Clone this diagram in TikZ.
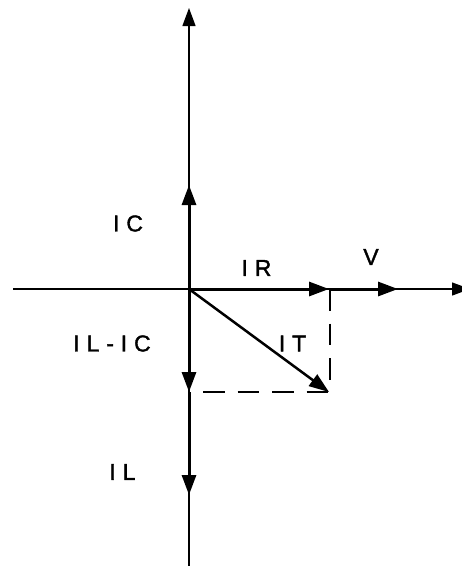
\documentclass[tikz,border=0pt]{standalone}
\usepackage{fontspec}
\setmainfont{Liberation Sans}
\newfontfamily\lblfont[LetterSpace=30,FakeBold=1.5]{Liberation Sans}
\usetikzlibrary{arrows.meta}
\tikzset{
  vec/.style={line width=3pt, -{Triangle[length=20pt,width=14pt]}},
  vecthin/.style={line width=2.5pt, -{Triangle[length=20pt,width=14pt]}},
  axtip/.style={line width=1.3pt, -{Triangle[length=18pt,width=13pt]}},
  guide/.style={line width=2pt, dash pattern=on 21.5pt off 13pt},
  lbl/.style={inner sep=0pt, font={\fontsize{23}{26}\selectfont\lblfont}}
}
\begin{document}
\begin{tikzpicture}[x=1pt,y=-1pt]
\useasboundingbox (0,0) rectangle (462,566);
\begin{scope}
\clip (0,0) rectangle (462,566);
\coordinate (O) at (189,289);
\coordinate (top) at (189,8);
\coordinate (bot) at (189,570);
\coordinate (left) at (13,289);
\coordinate (right) at (470,289);
\coordinate (ic) at (189,185);
\coordinate (ir) at (329,289);
\coordinate (v) at (398,289);
\coordinate (ilic) at (189,392);
\coordinate (il) at (189,495);
\coordinate (it) at (329,392);
\coordinate (cx) at (330,289);
\coordinate (cy) at (330,392);
\coordinate (dl) at (203,392);
% axes
\draw[axtip] (bot) -- (top);
\draw[axtip] (left) -- (right);
% vectors
\draw[vec] (O) -- (ic);
\draw[vec] (O) -- (ir);
\draw[vec] (ir) -- (v);
\draw[vec] (O) -- (ilic);
\draw[vec] (ilic) -- (il);
\draw[vecthin] (O) -- (it);
% dashed guides
\draw[guide] (cx) -- (cy);
\draw[guide] (dl) -- (cy);
\end{scope}
% labels
\node[lbl] (tIC) at (128,223.5) {IC};
\node[lbl] (tIR) at (256.5,268) {IR};
\node[lbl] (tV) at (371,257) {V};
\node[lbl] (tILIC) at (112,343.5) {IL-IC};
\node[lbl] (tIT) at (292.5,343.5) {IT};
\node[lbl] (tIL) at (122.5,472) {IL};
\end{tikzpicture}
\end{document}
